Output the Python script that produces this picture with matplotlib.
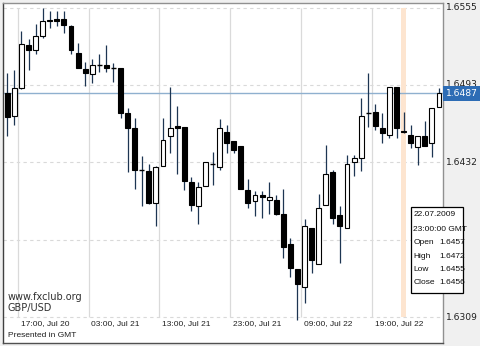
import matplotlib
matplotlib.use("Agg")
import matplotlib.pyplot as plt
from matplotlib.patches import Rectangle
from matplotlib.transforms import blended_transform_factory as blend

# ---- data (GBP/USD hourly, 15:00 Jul 20 .. 04:00 Jul 23 2009) ----
opens = [1.6487, 1.6469, 1.6491, 1.6525, 1.6521, 1.6532, 1.6545, 1.6546, 1.6546, 1.6540,
         1.6519, 1.6506, 1.6502, 1.6509, 1.6509, 1.6507, 1.6507, 1.6471, 1.6459, 1.6426,
         1.6425, 1.6400, 1.6429, 1.6453, 1.6461, 1.6460, 1.6416, 1.6397, 1.6413, 1.6431,
         1.6428, 1.6456, 1.6449, 1.6445, 1.6410, 1.6401, 1.6406, 1.6402, 1.6402, 1.6391,
         1.6367, 1.6347, 1.6333, 1.6380, 1.6351, 1.6398, 1.6424, 1.6390, 1.6380, 1.6432,
         1.6435, 1.6471, 1.6472, 1.6459, 1.6454, 1.6492, 1.6457, 1.6454, 1.6444, 1.6453,
         1.6447, 1.6476]
highs = [1.6503, 1.6505, 1.6536, 1.6530, 1.6542, 1.6555, 1.6552, 1.6552, 1.6552, 1.6541,
         1.6527, 1.6512, 1.6514, 1.6518, 1.6525, 1.6511, 1.6507, 1.6475, 1.6467, 1.6437,
         1.6431, 1.6429, 1.6467, 1.6492, 1.6477, 1.6460, 1.6420, 1.6416, 1.6432, 1.6440,
         1.6466, 1.6462, 1.6449, 1.6445, 1.6419, 1.6409, 1.6409, 1.6416, 1.6406, 1.6411,
         1.6372, 1.6347, 1.6387, 1.6380, 1.6407, 1.6446, 1.6426, 1.6397, 1.6438, 1.6438,
         1.6483, 1.6503, 1.6478, 1.6471, 1.6492, 1.6492, 1.6472, 1.6462, 1.6453, 1.6465,
         1.6475, 1.6491]
lows = [1.6453, 1.6462, 1.6490, 1.6505, 1.6518, 1.6531, 1.6539, 1.6540, 1.6535, 1.6518,
        1.6507, 1.6493, 1.6495, 1.6504, 1.6504, 1.6496, 1.6467, 1.6424, 1.6411, 1.6397,
        1.6399, 1.6381, 1.6429, 1.6439, 1.6423, 1.6410, 1.6393, 1.6383, 1.6413, 1.6414,
        1.6426, 1.6439, 1.6439, 1.6411, 1.6396, 1.6389, 1.6388, 1.6391, 1.6390, 1.6356,
        1.6341, 1.6307, 1.6320, 1.6344, 1.6351, 1.6398, 1.6383, 1.6352, 1.6380, 1.6421,
        1.6425, 1.6460, 1.6458, 1.6447, 1.6451, 1.6451, 1.6455, 1.6443, 1.6430, 1.6445,
        1.6436, 1.6476]
closes = [1.6468, 1.6491, 1.6526, 1.6521, 1.6532, 1.6544, 1.6544, 1.6544, 1.6541, 1.6521,
          1.6507, 1.6503, 1.6509, 1.6509, 1.6507, 1.6507, 1.6471, 1.6459, 1.6426, 1.6426,
          1.6400, 1.6428, 1.6450, 1.6459, 1.6459, 1.6417, 1.6398, 1.6412, 1.6432, 1.6431,
          1.6459, 1.6447, 1.6442, 1.6411, 1.6400, 1.6406, 1.6404, 1.6404, 1.6391, 1.6365,
          1.6348, 1.6335, 1.6381, 1.6354, 1.6396, 1.6423, 1.6388, 1.6381, 1.6431, 1.6435,
          1.6469, 1.6471, 1.6461, 1.6455, 1.6492, 1.6459, 1.6456, 1.6447, 1.6453, 1.6445,
          1.6475, 1.6487]

time_tick_idx = [2, 12, 22, 32, 42, 52]
time_tick_labels = ["17:00, Jul 20", "03:00, Jul 21", "13:00, Jul 21",
                    "23:00, Jul 21", "09:00, Jul 22", "19:00, Jul 22"]
price_levels = [1.6555, 1.64935, 1.6432, 1.63705, 1.6309]
price_labels = {1.6555: "1.6555", 1.64935: "1.6493", 1.6432: "1.6432", 1.6309: "1.6309"}
last_price = 1.6487
sel_idx = 56
tooltip_lines = [("22.07.2009", ""), ("23:00:00 GMT", ""), ("Open", "1.6457"),
                 ("High", "1.6472"), ("Low", "1.6455"), ("Close", "1.6456")]

# ---- figure ----
W, H = 480, 346
fig = plt.figure(figsize=(W / 100, H / 100), dpi=100, facecolor="#f0f0f0")
ax = fig.add_axes([3 / W, (H - 343) / H, 440 / W, 340 / H])
ax.set_facecolor("white")

k = 0.0246 / 309.5          # price per pixel
top_px, bot_px = 3, 343
ax.set_ylim(1.6555 - (bot_px - 7.5) * k, 1.6555 + (7.5 - top_px) * k)
step = 7.077
ax.set_xlim((3 - 7.3) / step, (443 - 7.3) / step)
ax.set_xticks([]); ax.set_yticks([])
for s in ax.spines.values():
    s.set_color("#909090"); s.set_linewidth(1)
ax.spines["left"].set_color("#404040")
ax.spines["bottom"].set_color("#505050")

# grid
ymin_g, ymax_g = min(price_levels), max(price_levels)
for p in price_levels:
    ax.axhline(p, color="#d9d9d9", lw=0.8, ls=(0, (3, 3)), zorder=1)
ax.vlines([i - 0.5 for i in time_tick_idx], ymin_g, ymax_g, color="#dadada", lw=0.9, zorder=1)

# highlight of selected candle
ax.add_patch(Rectangle((sel_idx - 0.33, ymin_g), 0.66, ymax_g - ymin_g,
                       facecolor="#fde5d0", edgecolor="none", zorder=1.5))

# last price line
ax.axhline(last_price, color="#8fb0cf", lw=1.0, zorder=2)

# candles
bw = 0.7
for i, (o, h, l, c) in enumerate(zip(opens, highs, lows, closes)):
    ax.vlines(i, l, h, color="#1d3552", lw=0.9, zorder=3)
    if abs(c - o) < 1e-9:
        ax.hlines(o, i - bw / 2, i + bw / 2, color="black", lw=1.0, zorder=4)
    else:
        fc = "white" if c > o else "black"
        ax.bar(i, abs(c - o), bottom=min(o, c), width=bw, facecolor=fc,
               edgecolor="black", linewidth=0.8, zorder=4)

# right price labels
tr = blend(fig.transFigure, ax.transData)
for p, lab in price_labels.items():
    ax.text(446 / W, p, lab, transform=tr, ha="left", va="center",
            fontsize=6.6, family="DejaVu Sans", color="#202020", clip_on=False)
bh = 7.5 * k
ax.add_patch(Rectangle((443 / W, last_price - bh), 37 / W, 2 * bh, transform=tr,
                       facecolor="#2d6cb5", edgecolor="none", clip_on=False, zorder=10))
ax.text(446 / W, last_price, f"{last_price:.4f}", transform=tr, ha="left", va="center",
        fontsize=6.6, family="DejaVu Sans", color="white", clip_on=False, zorder=11)

# time labels
trx = blend(ax.transData, fig.transFigure)
for i, lab in zip(time_tick_idx, time_tick_labels):
    ax.text(i - 0.5 + 2.8 / step, 1 - 324 / H, lab, transform=trx, ha="left", va="center",
            fontsize=6.0, family="Liberation Sans", color="#202020", clip_on=False)

def fx(x): return x / W
def fy(y): return 1 - y / H

fig.text(fx(8), fy(297), "www.fxclub.org", fontsize=7.0, family="DejaVu Sans",
         color="#303030", va="center", ha="left")
fig.text(fx(8), fy(308.5), "GBP/USD", fontsize=7.0, family="DejaVu Sans",
         color="#303030", va="center", ha="left")
fig.text(fx(7.5), fy(335.7), "Presented in GMT", fontsize=6.0, family="Liberation Sans",
         color="#202020", va="center", ha="left")

# tooltip
fig.patches.append(Rectangle((fx(410.7), fy(292.7)), (463 - 410.7) / W, (292.7 - 207.3) / H,
                             transform=fig.transFigure, facecolor="white",
                             edgecolor="black", linewidth=0.9, zorder=20))
ys = [215, 229.3, 242.7, 256, 269.3, 282.7]
for (a, b), y in zip(tooltip_lines, ys):
    fig.text(fx(413.3), fy(y), a, fontsize=6.0, family="Liberation Sans",
             color="#101010", va="center", ha="left", zorder=21)
    if b:
        fig.text(fx(439), fy(y), b, fontsize=6.0, family="Liberation Sans",
                 color="#101010", va="center", ha="left", zorder=21)

fig.savefig("out.png", dpi=100, facecolor=fig.get_facecolor())
